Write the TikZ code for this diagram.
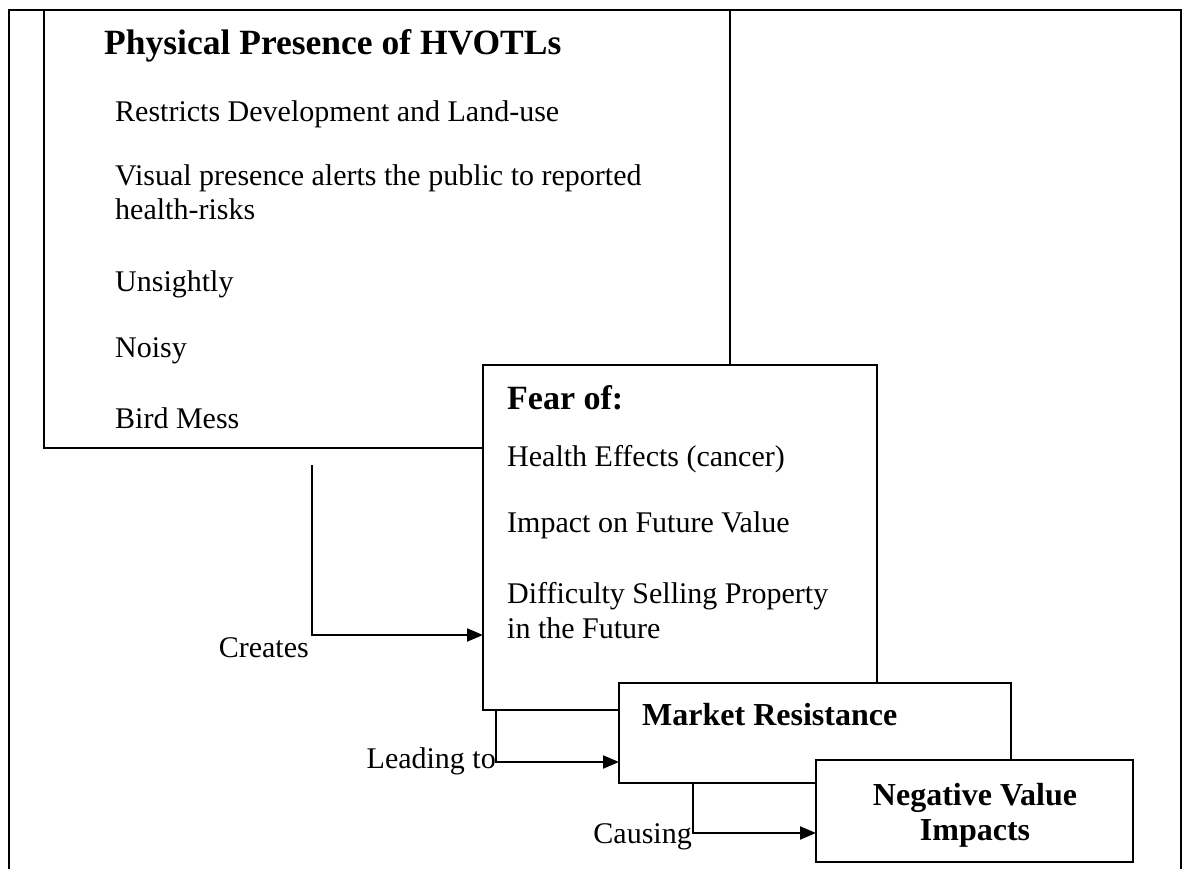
\documentclass[tikz,border=0pt]{standalone}
\usepackage{fontspec}
\setmainfont{Liberation Serif}
\usetikzlibrary{arrows.meta}
\begin{document}
\begin{tikzpicture}[x=1pt,y=-1pt,
  box/.style={draw, line width=2.5pt, fill=white, rectangle, inner sep=0pt, outer sep=0pt, anchor=north west},
  conn/.style={line width=2pt},
  arr/.style={conn, -{Triangle[length=16pt,width=13pt]}},
  body/.style={font=\fontsize{30}{34}\selectfont, inner sep=0pt, anchor=base west},
  head/.style={font=\fontsize{34}{38}\selectfont\bfseries, inner sep=0pt, anchor=base west},
  headt/.style={font=\fontsize{35.5}{40}\selectfont\bfseries, inner sep=0pt, anchor=base west},
  headb/.style={font=\fontsize{32}{36}\selectfont\bfseries, inner sep=0pt},
  lbl/.style={font=\fontsize{30}{34}\selectfont, inner sep=0pt, anchor=base east}]
\useasboundingbox (0,0) rectangle (1183,869);
% outer frame
\draw[line width=2.5pt] (9,869) -- (9,10) -- (1181,10) -- (1181,869);
% box 1
\node[box, minimum width=686pt, minimum height=438pt] (phys) at (44,10) {};
\node[headt] (t1) at (104,55) {Physical Presence of HVOTLs};
\node[body] (p1) at (115,122) {Restricts Development and Land-use};
\node[body] (p2) at (115,186) {Visual presence alerts the public to reported};
\node[body] (p2b) at (115,220) {health-risks};
\node[body] (p3) at (115,291) {Unsightly};
\node[body] (p4) at (115,357) {Noisy};
\node[body] (p5) at (115,428) {Bird Mess};
% box 2
\node[box, minimum width=394pt, minimum height=345pt] (fear) at (483,365) {};
\node[head] (t2) at (507,409) {Fear of:};
\node[body] (f1) at (507,466) {Health Effects (cancer)};
\node[body] (f2) at (507,532) {Impact on Future Value};
\node[body] (f3) at (507,603) {Difficulty Selling Property};
\node[body] (f3b) at (507,638) {in the Future};
% box 3
\node[box, minimum width=392pt, minimum height=100pt] (market) at (619,683) {};
\node[headb, anchor=base west] (t3) at (642,725) {Market Resistance};
% box 4
\node[box, minimum width=317pt, minimum height=102pt] (neg) at (816,760) {};
\node[headb, anchor=base] (t4a) at (975,805) {Negative Value};
\node[headb, anchor=base] (t4b) at (975,840) {Impacts};
% connectors
\coordinate (cr0) at (312,465);
\coordinate (cr1) at (312,635);
\draw[arr] (cr0) -- (cr1) -- (fear.west |- cr1);
\node[lbl] (lcr) at (309,657) {Creates};
\coordinate (ld0) at (496,710);
\coordinate (ld1) at (496,762);
\draw[arr] (ld0) -- (ld1) -- (market.west |- ld1);
\node[lbl] (lld) at (496,768) {Leading to};
\coordinate (ca0) at (693,783);
\coordinate (ca1) at (693,833);
\draw[arr] (ca0) -- (ca1) -- (neg.west |- ca1);
\node[lbl] (lca) at (692,843) {Causing};
\end{tikzpicture}
\end{document}
